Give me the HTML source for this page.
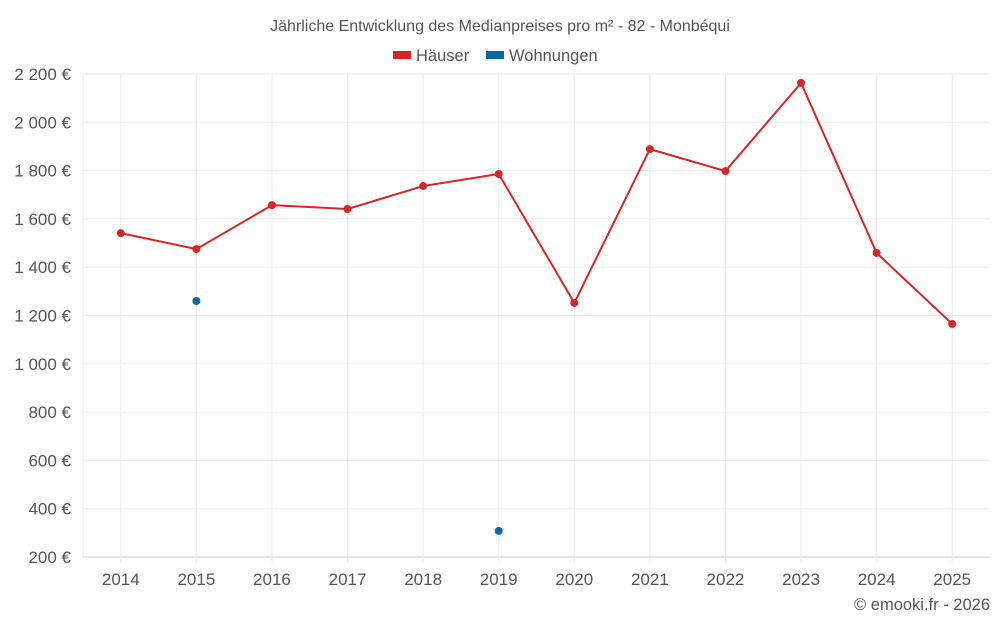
<!DOCTYPE html>
<html><head><meta charset="utf-8"><style>
body{margin:0;background:#fff;font-family:"Liberation Sans",sans-serif;}
svg text{font-family:"Liberation Sans",sans-serif;}
</style></head><body>
<svg id="c" width="1000" height="625">
<text x="500" y="31" text-anchor="middle" font-size="16" fill="#555">Jährliche Entwicklung des Medianpreises pro m² - 82 - Monbéqui</text>
<g>
<g><rect x="393" y="51" width="18" height="8" fill="#d62728"/><text x="416" y="61" font-size="16.5" fill="#555">Häuser</text></g>
<g><rect x="486" y="51" width="18" height="8" fill="#0868a8"/><text x="509" y="61" font-size="16.5" fill="#555">Wohnungen</text></g>
</g>
<g id="grid"></g><g id="axes"></g><g id="marks"></g>
<text x="990" y="610" text-anchor="end" font-size="16.5" fill="#555">© emooki.fr - 2026</text>
</svg>
<script>
const years=["2014","2015","2016","2017","2018","2019","2020","2021","2022","2023","2024","2025"];
const haeuser=[1541,1475,1657,1641,1736,1786,1252,1889,1798,2163,1459,1165];
const wohnungen=[null,1260,null,null,null,308,null,null,null,null,null,null];
const yTicks=[200,400,600,800,1000,1200,1400,1600,1800,2000,2200];
const L=83,R=990,T=74,B=557,ymin=200,ymax=2200;
const bw=(R-L)/years.length;
const xs=i=>L+bw*(i+0.5);
const ys=v=>B-(v-ymin)/(ymax-ymin)*(B-T);
const NS="http://www.w3.org/2000/svg";
function mk(p,tag,a){const e=document.createElementNS(NS,tag);for(const k in a)e.setAttribute(k,a[k]);document.getElementById(p).appendChild(e);return e;}
yTicks.forEach(v=>{
 const l=mk("grid","line",{x1:L,x2:R,y1:ys(v),y2:ys(v),stroke:v===ymin?"#ccc":"#ebebeb"});
 
 
 const t=mk("axes","text",{x:L-12,y:ys(v)+6,"text-anchor":"end","font-size":"17",fill:"#555"});
 t.textContent=v.toLocaleString("fr-FR").replace(/\u202f|\u00a0/g," ")+" €";
 
 
});
const lb=mk("grid","line",{x1:L,x2:L,y1:T,y2:B,stroke:"#ebebeb"});


years.forEach((y,i)=>{
 const l=mk("grid","line",{x1:xs(i),x2:xs(i),y1:T,y2:B+6,stroke:"#ebebeb"});
 
 
 const t=mk("axes","text",{x:xs(i),y:585,"text-anchor":"middle","font-size":"17",fill:"#555"});
 t.textContent=y;
 
 
});
const pl=mk("marks","polyline",{points:haeuser.map((v,i)=>xs(i)+","+ys(v)).join(" "),fill:"none",stroke:"#d62728","stroke-width":2});


haeuser.forEach((v,i)=>{
 const c=mk("marks","circle",{cx:xs(i),cy:ys(v),r:4,fill:"#d62728"});
 
 
});
wohnungen.forEach((v,i)=>{
 if(v==null)return;
 const c=mk("marks","circle",{cx:xs(i),cy:ys(v),r:4,fill:"#0868a8"});
 
 
});
</script>
</body></html>
